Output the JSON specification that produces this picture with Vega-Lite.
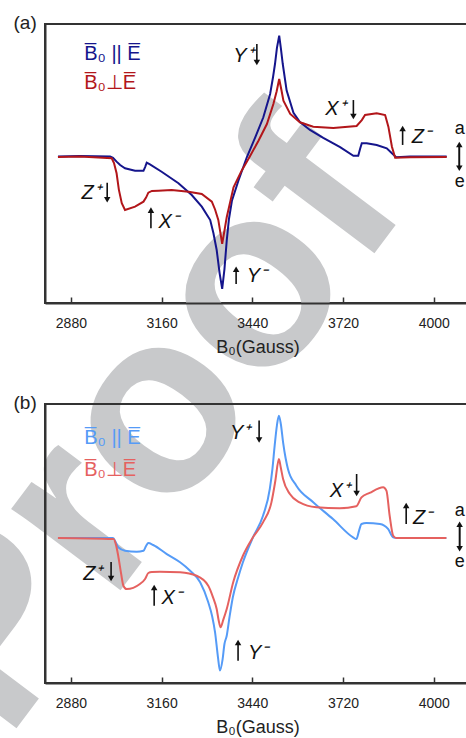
{
  "$schema": "https://vega.github.io/schema/vega-lite/v6.json",
  "autosize": {"type": "none"},
  "padding": {"left": 45, "top": 24, "right": 421, "bottom": 714},
  "bounds": "flush",
  "spacing": 101,
  "background": "white",
  "resolve": {"scale": {"color": "independent", "shape": "independent"}},
  "datasets": {
    "stamp": [{"text": "Proof", "B": 2680, "I": -4.42}],
    "curves_a": [
      {"series": "par", "B": 2840, "I": 0}, {"series": "par", "B": 2908, "I": 0.003}, {"series": "par", "B": 3001, "I": 0},
      {"series": "par", "B": 3010, "I": -0.01}, {"series": "par", "B": 3021, "I": -0.039}, {"series": "par", "B": 3032, "I": -0.065},
      {"series": "par", "B": 3047, "I": -0.089}, {"series": "par", "B": 3078, "I": -0.107}, {"series": "par", "B": 3104, "I": -0.108},
      {"series": "par", "B": 3109, "I": -0.08}, {"series": "par", "B": 3114, "I": -0.047}, {"series": "par", "B": 3124, "I": -0.06},
      {"series": "par", "B": 3160, "I": -0.115}, {"series": "par", "B": 3212, "I": -0.202}, {"series": "par", "B": 3253, "I": -0.291},
      {"series": "par", "B": 3284, "I": -0.379}, {"series": "par", "B": 3310, "I": -0.48}, {"series": "par", "B": 3320, "I": -0.58},
      {"series": "par", "B": 3330, "I": -0.706}, {"series": "par", "B": 3339, "I": -0.88}, {"series": "par", "B": 3347, "I": -1.0},
      {"series": "par", "B": 3354, "I": -0.85}, {"series": "par", "B": 3361, "I": -0.635}, {"series": "par", "B": 3368, "I": -0.47},
      {"series": "par", "B": 3377, "I": -0.334}, {"series": "par", "B": 3397, "I": -0.183}, {"series": "par", "B": 3423, "I": -0.006},
      {"series": "par", "B": 3449, "I": 0.145}, {"series": "par", "B": 3474, "I": 0.296}, {"series": "par", "B": 3495, "I": 0.472},
      {"series": "par", "B": 3504, "I": 0.6}, {"series": "par", "B": 3510, "I": 0.698}, {"series": "par", "B": 3516, "I": 0.82},
      {"series": "par", "B": 3523, "I": 0.912}, {"series": "par", "B": 3528, "I": 0.82}, {"series": "par", "B": 3534, "I": 0.698},
      {"series": "par", "B": 3546, "I": 0.497}, {"series": "par", "B": 3567, "I": 0.33}, {"series": "par", "B": 3587, "I": 0.26},
      {"series": "par", "B": 3618, "I": 0.2}, {"series": "par", "B": 3659, "I": 0.14}, {"series": "par", "B": 3711, "I": 0.07},
      {"series": "par", "B": 3752, "I": 0.005}, {"series": "par", "B": 3767, "I": 0.005}, {"series": "par", "B": 3773, "I": 0.06},
      {"series": "par", "B": 3778, "I": 0.1}, {"series": "par", "B": 3793, "I": 0.1}, {"series": "par", "B": 3824, "I": 0.087},
      {"series": "par", "B": 3855, "I": 0.062}, {"series": "par", "B": 3871, "I": 0.024}, {"series": "par", "B": 3884, "I": -0.005},
      {"series": "par", "B": 3927, "I": 0}, {"series": "par", "B": 4040, "I": 0},
      {"series": "perp", "B": 2840, "I": -0.003}, {"series": "perp", "B": 2908, "I": 0}, {"series": "perp", "B": 3006, "I": -0.014},
      {"series": "perp", "B": 3013, "I": -0.05}, {"series": "perp", "B": 3021, "I": -0.127}, {"series": "perp", "B": 3028, "I": -0.25},
      {"series": "perp", "B": 3037, "I": -0.353}, {"series": "perp", "B": 3047, "I": -0.404}, {"series": "perp", "B": 3078, "I": -0.379},
      {"series": "perp", "B": 3104, "I": -0.341}, {"series": "perp", "B": 3112, "I": -0.31}, {"series": "perp", "B": 3119, "I": -0.273},
      {"series": "perp", "B": 3130, "I": -0.26}, {"series": "perp", "B": 3150, "I": -0.258}, {"series": "perp", "B": 3191, "I": -0.253},
      {"series": "perp", "B": 3243, "I": -0.266}, {"series": "perp", "B": 3284, "I": -0.283}, {"series": "perp", "B": 3315, "I": -0.341},
      {"series": "perp", "B": 3325, "I": -0.4}, {"series": "perp", "B": 3335, "I": -0.479}, {"series": "perp", "B": 3347, "I": -0.66},
      {"series": "perp", "B": 3354, "I": -0.56}, {"series": "perp", "B": 3361, "I": -0.459}, {"series": "perp", "B": 3382, "I": -0.232},
      {"series": "perp", "B": 3407, "I": -0.107}, {"series": "perp", "B": 3431, "I": -0.006}, {"series": "perp", "B": 3459, "I": 0.119},
      {"series": "perp", "B": 3485, "I": 0.245}, {"series": "perp", "B": 3505, "I": 0.396}, {"series": "perp", "B": 3515, "I": 0.49},
      {"series": "perp", "B": 3523, "I": 0.585}, {"series": "perp", "B": 3530, "I": 0.5}, {"series": "perp", "B": 3536, "I": 0.421},
      {"series": "perp", "B": 3557, "I": 0.321}, {"series": "perp", "B": 3587, "I": 0.258}, {"series": "perp", "B": 3628, "I": 0.225},
      {"series": "perp", "B": 3690, "I": 0.215}, {"series": "perp", "B": 3762, "I": 0.23}, {"series": "perp", "B": 3778, "I": 0.275},
      {"series": "perp", "B": 3788, "I": 0.313}, {"series": "perp", "B": 3824, "I": 0.326}, {"series": "perp", "B": 3850, "I": 0.313},
      {"series": "perp", "B": 3860, "I": 0.225}, {"series": "perp", "B": 3871, "I": 0.074}, {"series": "perp", "B": 3881, "I": -0.01},
      {"series": "perp", "B": 3927, "I": -0.005}, {"series": "perp", "B": 4040, "I": -0.003}
    ],
    "curves_b": [
      {"series": "par", "B": 2840, "I": 0}, {"series": "par", "B": 3010, "I": 0}, {"series": "par", "B": 3018, "I": -0.03},
      {"series": "par", "B": 3026, "I": -0.07}, {"series": "par", "B": 3047, "I": -0.096}, {"series": "par", "B": 3083, "I": -0.104},
      {"series": "par", "B": 3104, "I": -0.096}, {"series": "par", "B": 3112, "I": -0.06}, {"series": "par", "B": 3119, "I": -0.038},
      {"series": "par", "B": 3134, "I": -0.053}, {"series": "par", "B": 3176, "I": -0.121}, {"series": "par", "B": 3217, "I": -0.183},
      {"series": "par", "B": 3248, "I": -0.247}, {"series": "par", "B": 3279, "I": -0.334}, {"series": "par", "B": 3304, "I": -0.485},
      {"series": "par", "B": 3316, "I": -0.59}, {"series": "par", "B": 3325, "I": -0.712}, {"series": "par", "B": 3334, "I": -0.9},
      {"series": "par", "B": 3340, "I": -1.0}, {"series": "par", "B": 3348, "I": -0.92}, {"series": "par", "B": 3354, "I": -0.8},
      {"series": "par", "B": 3361, "I": -0.737}, {"series": "par", "B": 3370, "I": -0.59}, {"series": "par", "B": 3380, "I": -0.445},
      {"series": "par", "B": 3396, "I": -0.3}, {"series": "par", "B": 3411, "I": -0.183}, {"series": "par", "B": 3442, "I": 0.005},
      {"series": "par", "B": 3473, "I": 0.168}, {"series": "par", "B": 3494, "I": 0.37}, {"series": "par", "B": 3502, "I": 0.52},
      {"series": "par", "B": 3509, "I": 0.697}, {"series": "par", "B": 3516, "I": 0.85}, {"series": "par", "B": 3522, "I": 0.923},
      {"series": "par", "B": 3528, "I": 0.86}, {"series": "par", "B": 3535, "I": 0.722}, {"series": "par", "B": 3543, "I": 0.6},
      {"series": "par", "B": 3550, "I": 0.521}, {"series": "par", "B": 3576, "I": 0.395}, {"series": "par", "B": 3628, "I": 0.27},
      {"series": "par", "B": 3689, "I": 0.143}, {"series": "par", "B": 3751, "I": 0.005}, {"series": "par", "B": 3761, "I": -0.008},
      {"series": "par", "B": 3770, "I": 0.06}, {"series": "par", "B": 3777, "I": 0.106}, {"series": "par", "B": 3792, "I": 0.113},
      {"series": "par", "B": 3834, "I": 0.106}, {"series": "par", "B": 3859, "I": 0.068}, {"series": "par", "B": 3875, "I": 0.005},
      {"series": "par", "B": 3885, "I": 0}, {"series": "par", "B": 4039, "I": 0},
      {"series": "perp", "B": 2840, "I": 0}, {"series": "perp", "B": 3011, "I": -0.008}, {"series": "perp", "B": 3019, "I": -0.05},
      {"series": "perp", "B": 3026, "I": -0.134}, {"series": "perp", "B": 3035, "I": -0.27}, {"series": "perp", "B": 3042, "I": -0.36},
      {"series": "perp", "B": 3052, "I": -0.385}, {"series": "perp", "B": 3093, "I": -0.347}, {"series": "perp", "B": 3109, "I": -0.309},
      {"series": "perp", "B": 3119, "I": -0.264}, {"series": "perp", "B": 3130, "I": -0.256}, {"series": "perp", "B": 3155, "I": -0.254},
      {"series": "perp", "B": 3217, "I": -0.259}, {"series": "perp", "B": 3268, "I": -0.285}, {"series": "perp", "B": 3304, "I": -0.36},
      {"series": "perp", "B": 3319, "I": -0.45}, {"series": "perp", "B": 3330, "I": -0.536}, {"series": "perp", "B": 3336, "I": -0.62},
      {"series": "perp", "B": 3342, "I": -0.674}, {"series": "perp", "B": 3350, "I": -0.62}, {"series": "perp", "B": 3361, "I": -0.536},
      {"series": "perp", "B": 3381, "I": -0.334}, {"series": "perp", "B": 3411, "I": -0.134}, {"series": "perp", "B": 3442, "I": 0.005},
      {"series": "perp", "B": 3473, "I": 0.118}, {"series": "perp", "B": 3499, "I": 0.269}, {"series": "perp", "B": 3511, "I": 0.43},
      {"series": "perp", "B": 3522, "I": 0.596}, {"series": "perp", "B": 3528, "I": 0.53}, {"series": "perp", "B": 3535, "I": 0.445},
      {"series": "perp", "B": 3556, "I": 0.332}, {"series": "perp", "B": 3586, "I": 0.269}, {"series": "perp", "B": 3638, "I": 0.232},
      {"series": "perp", "B": 3710, "I": 0.224}, {"series": "perp", "B": 3761, "I": 0.239}, {"series": "perp", "B": 3777, "I": 0.307},
      {"series": "perp", "B": 3802, "I": 0.34}, {"series": "perp", "B": 3844, "I": 0.383}, {"series": "perp", "B": 3854, "I": 0.357},
      {"series": "perp", "B": 3864, "I": 0.168}, {"series": "perp", "B": 3875, "I": 0.017}, {"series": "perp", "B": 3885, "I": 0},
      {"series": "perp", "B": 4039, "I": 0}
    ],
    "legend_a": [
      {"series": "par", "text": "B\u0305\u2080 || E\u0305", "B": 2921, "I": 0.728},
      {"series": "perp", "text": "B\u0305\u2080\u22a5E\u0305", "B": 2921, "I": 0.512}
    ],
    "legend_b": [
      {"series": "par", "text": "B\u0305\u2080 || E\u0305", "B": 2921, "I": 0.709},
      {"series": "perp", "text": "B\u0305\u2080\u22a5E\u0305", "B": 2921, "I": 0.47}
    ],
    "letters_a": [
      {"text": "Y\u207a", "B": 3381, "I": 0.713},
      {"text": "X\u207a", "B": 3665, "I": 0.313},
      {"text": "Z\u207b", "B": 3932, "I": 0.1},
      {"text": "Z\u207a", "B": 2913, "I": -0.323},
      {"text": "X\u207b", "B": 3150, "I": -0.54},
      {"text": "Y\u207b", "B": 3423, "I": -0.949}
    ],
    "letters_b": [
      {"text": "Y\u207a", "B": 3371, "I": 0.747},
      {"text": "X\u207a", "B": 3679, "I": 0.309},
      {"text": "Z\u207b", "B": 3936, "I": 0.106},
      {"text": "Z\u207a", "B": 2918, "I": -0.315},
      {"text": "X\u207b", "B": 3160, "I": -0.498},
      {"text": "Y\u207b", "B": 3427, "I": -0.913}
    ],
    "arrows_a": [
      {"dir": "down", "B": 3454, "I": 0.849, "I2": 0.709},
      {"dir": "down", "B": 3752, "I": 0.426, "I2": 0.302},
      {"dir": "up", "B": 3904, "I": 0.087, "I2": 0.211},
      {"dir": "down", "B": 2992, "I": -0.198, "I2": -0.327},
      {"dir": "up", "B": 3127, "I": -0.542, "I2": -0.405},
      {"dir": "up", "B": 3390, "I": -0.963, "I2": -0.851},
      {"dir": "up", "B": 4079, "I": -0.089, "I2": 0.09},
      {"dir": "down", "B": 4079, "I": 0.09, "I2": -0.089}
    ],
    "arrows_b": [
      {"dir": "down", "B": 3461, "I": 0.886, "I2": 0.739},
      {"dir": "down", "B": 3762, "I": 0.483, "I2": 0.336},
      {"dir": "up", "B": 3915, "I": 0.106, "I2": 0.245},
      {"dir": "down", "B": 3004, "I": -0.181, "I2": -0.306},
      {"dir": "up", "B": 3137, "I": -0.511, "I2": -0.373},
      {"dir": "up", "B": 3396, "I": -0.926, "I2": -0.788},
      {"dir": "up", "B": 4080, "I": -0.081, "I2": 0.104},
      {"dir": "down", "B": 4080, "I": 0.104, "I2": -0.081}
    ],
    "sides_a": [
      {"text": "a", "B": 4080, "I": 0.168},
      {"text": "e", "B": 4080, "I": -0.228}
    ],
    "sides_b": [
      {"text": "a", "B": 4080, "I": 0.168},
      {"text": "e", "B": 4080, "I": -0.221}
    ]
  },
  "vconcat": [
    {
      "width": 425,
      "height": 279,
      "encoding": {
        "x": {
          "field": "B", "type": "quantitative",
          "scale": {"domain": [2800, 4112], "nice": false, "zero": false},
          "axis": {
            "values": [2880, 3160, 3440, 3720, 4000], "format": "d", "zindex": 2,
            "title": "B\u2080(Gauss)", "titleFontSize": 18, "titleFontWeight": "normal", "titleColor": "#222",
            "titleY": 49, "titleBaseline": "alphabetic",
            "labelFontSize": 14, "labelColor": "#222", "labelPadding": 19, "labelFlush": false,
            "tickSize": -6, "tickWidth": 1.5, "tickColor": "#333",
            "domainColor": "#333", "domainWidth": 2
          }
        },
        "y": {
          "field": "I", "type": "quantitative",
          "scale": {"domain": [-1.106, 1.0], "nice": false, "zero": false},
          "axis": {
            "labels": false, "ticks": false, "domainColor": "#333", "domainWidth": 2, "zindex": 2,
            "title": "(a)", "titleAngle": 0, "titleX": -32, "titleY": 4, "titleAlign": "left",
            "titleBaseline": "alphabetic", "titleFontSize": 19, "titleFontWeight": "normal", "titleColor": "#222"
          }
        }
      },
      "layer": [
        {
          "data": {"name": "stamp"},
          "mark": {"type": "text", "fontWeight": "bold", "fontSize": 258, "angle": -53, "align": "left", "baseline": "alphabetic", "color": "#c8c9cb", "clip": false},
          "encoding": {"text": {"field": "text"}}
        },
        {
          "data": {"values": [{}]},
          "mark": {"type": "rule", "color": "#444", "strokeWidth": 1.5},
          "encoding": {"x": {"datum": 2800}, "x2": {"datum": 4112}, "y": {"datum": 0}}
        },
        {
          "data": {"name": "curves_a"},
          "mark": {"type": "line", "strokeWidth": 2},
          "encoding": {
            "color": {"field": "series", "type": "nominal", "scale": {"domain": ["par", "perp"], "range": ["#15158c", "#b2161a"]}, "legend": null}
          }
        },
        {
          "data": {"name": "legend_a"},
          "mark": {"type": "text", "fontSize": 20, "align": "left", "baseline": "alphabetic"},
          "encoding": {"text": {"field": "text"}, "color": {"field": "series", "type": "nominal", "legend": null}}
        },
        {
          "data": {"name": "letters_a"},
          "mark": {"type": "text", "fontSize": 20, "fontStyle": "italic", "align": "left", "baseline": "alphabetic", "color": "#111"},
          "encoding": {"text": {"field": "text"}}
        },
        {
          "data": {"name": "arrows_a"},
          "mark": {"type": "rule", "color": "#111", "strokeWidth": 1.6},
          "encoding": {"y2": {"field": "I2"}}
        },
        {
          "data": {"name": "arrows_a"},
          "mark": {"type": "point", "filled": true, "color": "#111", "size": 42, "opacity": 1},
          "encoding": {
            "y": {"field": "I2", "type": "quantitative"},
            "shape": {"field": "dir", "type": "nominal", "scale": {"domain": ["down", "up"], "range": ["triangle-down", "triangle-up"]}, "legend": null}
          }
        },
        {
          "data": {"name": "sides_a"},
          "mark": {"type": "text", "fontSize": 18, "align": "center", "baseline": "alphabetic", "color": "#111"},
          "encoding": {"text": {"field": "text"}}
        }
      ]
    },
    {
      "width": 425,
      "height": 279,
      "encoding": {
        "x": {
          "field": "B", "type": "quantitative",
          "scale": {"domain": [2800, 4112], "nice": false, "zero": false},
          "axis": {
            "values": [2880, 3160, 3440, 3720, 4000], "format": "d", "zindex": 2,
            "title": "B\u2080(Gauss)", "titleFontSize": 18, "titleFontWeight": "normal", "titleColor": "#222",
            "titleY": 49, "titleBaseline": "alphabetic",
            "labelFontSize": 14, "labelColor": "#222", "labelPadding": 19, "labelFlush": false,
            "tickSize": -6, "tickWidth": 1.5, "tickColor": "#333",
            "domainColor": "#333", "domainWidth": 2
          }
        },
        "y": {
          "field": "I", "type": "quantitative",
          "scale": {"domain": [-1.094, 1.011], "nice": false, "zero": false},
          "axis": {
            "labels": false, "ticks": false, "domainColor": "#333", "domainWidth": 2, "zindex": 2,
            "title": "(b)", "titleAngle": 0, "titleX": -32, "titleY": 4.5, "titleAlign": "left",
            "titleBaseline": "alphabetic", "titleFontSize": 19, "titleFontWeight": "normal", "titleColor": "#222"
          }
        }
      },
      "layer": [
        {
          "data": {"values": [{}]},
          "mark": {"type": "rule", "color": "#444", "strokeWidth": 1.5},
          "encoding": {"x": {"datum": 2800}, "x2": {"datum": 4112}, "y": {"datum": 0}}
        },
        {
          "data": {"name": "curves_b"},
          "mark": {"type": "line", "strokeWidth": 2, "interpolate": "monotone"},
          "encoding": {
            "color": {"field": "series", "type": "nominal", "scale": {"domain": ["par", "perp"], "range": ["#559bf7", "#e5615f"]}, "legend": null}
          }
        },
        {
          "data": {"name": "legend_b"},
          "mark": {"type": "text", "fontSize": 20, "align": "left", "baseline": "alphabetic"},
          "encoding": {"text": {"field": "text"}, "color": {"field": "series", "type": "nominal", "legend": null}}
        },
        {
          "data": {"name": "letters_b"},
          "mark": {"type": "text", "fontSize": 20, "fontStyle": "italic", "align": "left", "baseline": "alphabetic", "color": "#111"},
          "encoding": {"text": {"field": "text"}}
        },
        {
          "data": {"name": "arrows_b"},
          "mark": {"type": "rule", "color": "#111", "strokeWidth": 1.6},
          "encoding": {"y2": {"field": "I2"}}
        },
        {
          "data": {"name": "arrows_b"},
          "mark": {"type": "point", "filled": true, "color": "#111", "size": 42, "opacity": 1},
          "encoding": {
            "y": {"field": "I2", "type": "quantitative"},
            "shape": {"field": "dir", "type": "nominal", "scale": {"domain": ["down", "up"], "range": ["triangle-down", "triangle-up"]}, "legend": null}
          }
        },
        {
          "data": {"name": "sides_b"},
          "mark": {"type": "text", "fontSize": 18, "align": "center", "baseline": "alphabetic", "color": "#111"},
          "encoding": {"text": {"field": "text"}}
        }
      ]
    }
  ],
  "config": {
    "font": "Liberation Sans",
    "view": {"stroke": "#333", "strokeWidth": 2},
    "axis": {"grid": false}
  }
}
